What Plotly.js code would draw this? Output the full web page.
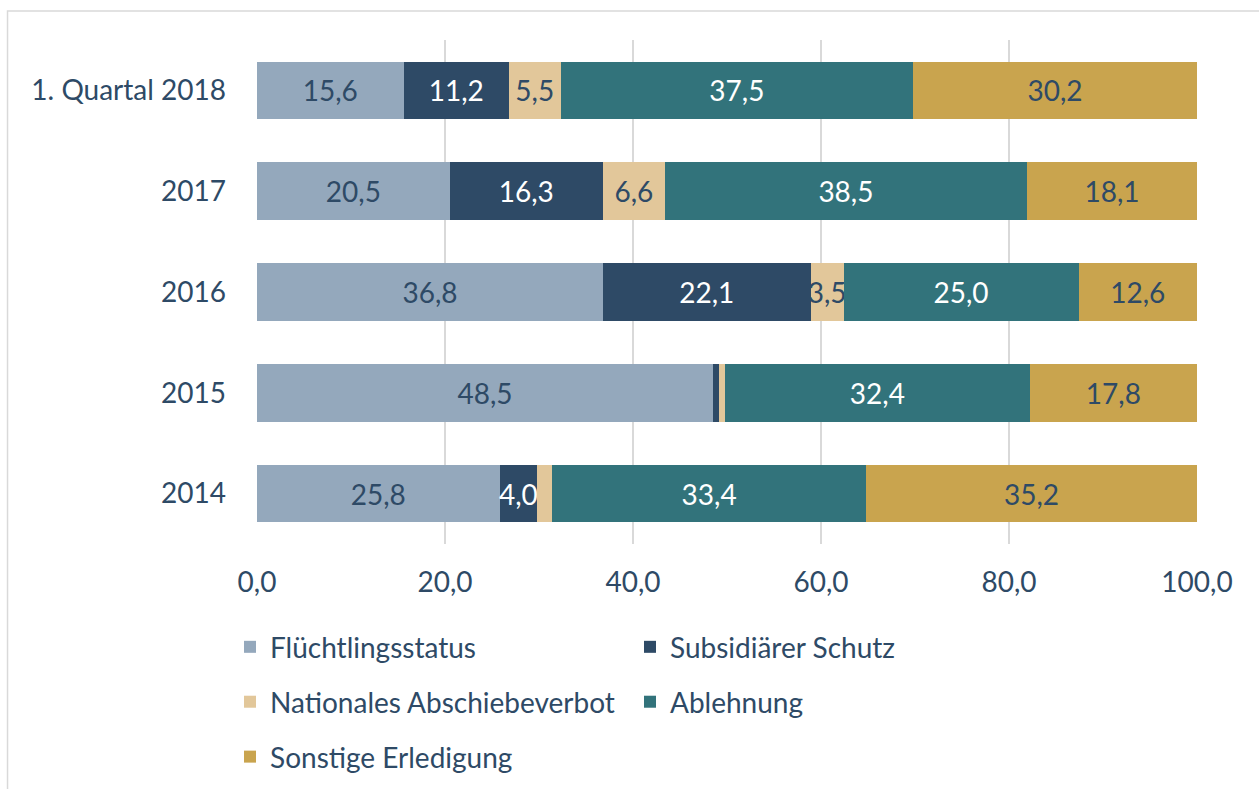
<!DOCTYPE html>
<html>
<head>
<meta charset="utf-8">
<script src="https://cdn.plot.ly/plotly-3.0.1.min.js"></script>
<style>html,body{margin:0;padding:0;background:#fff;}#chart{width:1259px;height:789px;}</style>
</head>
<body>
<div id="chart"></div>
<script>
const categories = ['1. Quartal 2018', '2017', '2016', '2015', '2014'];
const seriesNames = ['Flüchtlingsstatus', 'Subsidiärer Schutz', 'Nationales Abschiebeverbot', 'Ablehnung', 'Sonstige Erledigung'];
const fluechtlingsstatus = [15.6, 20.5, 36.8, 48.5, 25.8];
const subsidiaer = [11.2, 16.3, 22.1, 0.6, 4.0];
const abschiebeverbot = [5.5, 6.6, 3.5, 0.7, 1.6];
const ablehnung = [37.5, 38.5, 25.0, 32.4, 33.4];
const sonstige = [30.2, 18.1, 12.6, 17.8, 35.2];
const xTickValues = [0, 20, 40, 60, 80, 100];

const TXT = '#2E4A66';
const FONT = 'Lato, "Open Sans", sans-serif';
const FS = 28;
const colors = ['#94A8BC', '#2E4A66', '#E2C79A', '#32737B', '#C9A44E'];
const labelColors = [TXT, '#FFFFFF', TXT, '#FFFFFF', TXT];
const legendIds = ['legend', 'legend2', 'legend', 'legend2', 'legend'];
const allSeries = [fluechtlingsstatus, subsidiaer, abschiebeverbot, ablehnung, sonstige];

function fmt(v) { return v.toFixed(1).replace('.', ','); }

const traces = allSeries.map((vals, i) => ({
  type: 'bar',
  orientation: 'h',
  name: seriesNames[i],
  y: categories,
  x: vals,
  marker: {color: colors[i], line: {width: 0}},
  text: vals.map(v => v >= 2 ? fmt(v) : ''),
  texttemplate: '%{text}',
  textposition: 'inside',
  insidetextanchor: 'middle',
  constraintext: 'none',
  textangle: 0,
  insidetextfont: {family: FONT, size: FS, color: labelColors[i]},
  legend: legendIds[i],
  legendgroup: 'g' + i,
  hoverinfo: 'name+x'
}));

const legendCommon = {
  orientation: 'v',
  xanchor: 'left',
  yanchor: 'top',
  y: -0.155,
  tracegroupgap: 15.5,
  font: {family: FONT, size: FS, color: TXT},
  bgcolor: 'rgba(0,0,0,0)',
  borderwidth: 0,
  traceorder: 'grouped'
};

const layout = {
  width: 1259,
  height: 789,
  paper_bgcolor: '#FFFFFF',
  plot_bgcolor: '#FFFFFF',
  separators: ',.',
  barmode: 'stack',
  bargap: 0.43,
  margin: {l: 257, r: 62, t: 40, b: 245, pad: 0, autoexpand: false},
  font: {family: FONT, size: FS, color: TXT},
  xaxis: {
    range: [0, 100],
    tickvals: xTickValues,
    tickformat: '.1f',
    showgrid: true,
    gridcolor: '#D9D9D9',
    gridwidth: 1.5,
    zeroline: false,
    showline: false,
    ticks: '',
    ticklabelstandoff: 19,
    tickfont: {family: FONT, size: FS, color: TXT},
    fixedrange: true
  },
  yaxis: {
    autorange: 'reversed',
    type: 'category',
    showgrid: false,
    zeroline: false,
    showline: false,
    ticks: '',
    ticklabelstandoff: 30,
    tickfont: {family: FONT, size: FS, color: TXT},
    fixedrange: true
  },
  legend: Object.assign({}, legendCommon, {x: -0.0287}),
  legend2: Object.assign({}, legendCommon, {x: 0.3968}),
  shapes: [{
    type: 'rect', xref: 'paper', yref: 'paper',
    x0: -0.2654, x1: 1.2, y0: -0.6, y1: 1.0575,
    line: {color: '#D9D9D9', width: 1.5},
    fillcolor: 'rgba(0,0,0,0)',
    layer: 'below'
  }]
};

Plotly.newPlot('chart', traces, layout, {displayModeBar: false, staticPlot: false});
</script>
</body>
</html>
